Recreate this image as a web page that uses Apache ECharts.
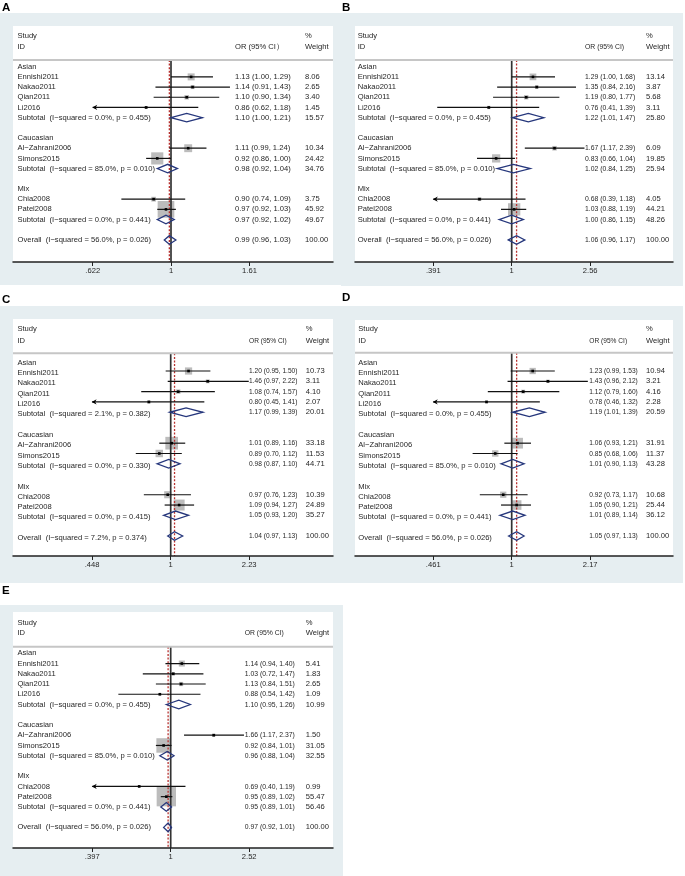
<!DOCTYPE html>
<html>
<head>
<meta charset="utf-8">
<title>Forest plots A-E</title>
<script src="https://cdn.jsdelivr.net/npm/echarts@6/dist/echarts.min.js"></script>
<style>
  html, body { margin: 0; padding: 0; background: #fff; }
  #chart { width: 685px; height: 876px; }
</style>
</head>
<body>
<div id="chart"></div>
<script>
// labels shown in every panel
var studyNames = ['Ennishi2011', 'Nakao2011', 'Qian2011', 'Li2016', 'Al\u2212Zahrani2006', 'Simons2015', 'Chia2008', 'Patel2008'];
var groupNames = ['Asian', 'Caucasian', 'Mix'];

// per panel: studies [OR, lower, upper, weight], pooled rows (3 subtotals + overall), heterogeneity, axis ticks
var studiesA = [[1.13, 1.00, 1.29, 8.06], [1.14, 0.91, 1.43, 2.65], [1.10, 0.90, 1.34, 3.40], [0.86, 0.62, 1.18, 1.45],
  [1.11, 0.99, 1.24, 10.34], [0.92, 0.86, 1.00, 24.42], [0.90, 0.74, 1.09, 3.75], [0.97, 0.92, 1.03, 45.92]];
var pooledA = [[1.10, 1.00, 1.21, 15.57], [0.98, 0.92, 1.04, 34.76], [0.97, 0.92, 1.02, 49.67], [0.99, 0.96, 1.03, 100.00]];
var hetA = [['0.0%', '0.455'], ['85.0%', '0.010'], ['0.0%', '0.441'], ['56.0%', '0.026']];
var ticksA = ['.622', '1', '1.61'];

var studiesB = [[1.29, 1.00, 1.68, 13.14], [1.35, 0.84, 2.16, 3.87], [1.19, 0.80, 1.77, 5.68], [0.76, 0.41, 1.39, 3.11],
  [1.67, 1.17, 2.39, 6.09], [0.83, 0.66, 1.04, 19.85], [0.68, 0.39, 1.18, 4.05], [1.03, 0.88, 1.19, 44.21]];
var pooledB = [[1.22, 1.01, 1.47, 25.80], [1.02, 0.84, 1.25, 25.94], [1.00, 0.86, 1.15, 48.26], [1.06, 0.96, 1.17, 100.00]];
var hetB = [['0.0%', '0.455'], ['85.0%', '0.010'], ['0.0%', '0.441'], ['56.0%', '0.026']];
var ticksB = ['.391', '1', '2.56'];

var studiesC = [[1.20, 0.95, 1.50, 10.73], [1.46, 0.97, 2.22, 3.11], [1.08, 0.74, 1.57, 4.10], [0.80, 0.45, 1.41, 2.07],
  [1.01, 0.89, 1.16, 33.18], [0.89, 0.70, 1.12, 11.53], [0.97, 0.76, 1.23, 10.39], [1.09, 0.94, 1.27, 24.89]];
var pooledC = [[1.17, 0.99, 1.39, 20.01], [0.98, 0.87, 1.10, 44.71], [1.05, 0.93, 1.20, 35.27], [1.04, 0.97, 1.13, 100.00]];
var hetC = [['2.1%', '0.382'], ['0.0%', '0.330'], ['0.0%', '0.415'], ['7.2%', '0.374']];
var ticksC = ['.448', '1', '2.23'];

var studiesD = [[1.23, 0.99, 1.53, 10.94], [1.43, 0.96, 2.12, 3.21], [1.12, 0.79, 1.60, 4.16], [0.78, 0.46, 1.32, 2.28],
  [1.06, 0.93, 1.21, 31.91], [0.85, 0.68, 1.06, 11.37], [0.92, 0.73, 1.17, 10.68], [1.05, 0.90, 1.21, 25.44]];
var pooledD = [[1.19, 1.01, 1.39, 20.59], [1.01, 0.90, 1.13, 43.28], [1.01, 0.89, 1.14, 36.12], [1.05, 0.97, 1.13, 100.00]];
var hetD = [['0.0%', '0.455'], ['85.0%', '0.010'], ['0.0%', '0.441'], ['56.0%', '0.026']];
var ticksD = ['.461', '1', '2.17'];

var studiesE = [[1.14, 0.94, 1.40, 5.41], [1.03, 0.72, 1.47, 1.83], [1.13, 0.84, 1.51, 2.65], [0.88, 0.54, 1.42, 1.09],
  [1.66, 1.17, 2.37, 1.50], [0.92, 0.84, 1.01, 31.05], [0.69, 0.40, 1.19, 0.99], [0.95, 0.89, 1.02, 55.47]];
var pooledE = [[1.10, 0.95, 1.26, 10.99], [0.96, 0.88, 1.04, 32.55], [0.95, 0.89, 1.01, 56.46], [0.97, 0.92, 1.01, 100.00]];
var hetE = [['0.0%', '0.455'], ['85.0%', '0.010'], ['0.0%', '0.441'], ['56.0%', '0.026']];
var ticksE = ['.397', '1', '2.52'];

// row slots (0 = "Asian" heading)
var groupRows = [0, 7, 12];
var studyRows = [1, 2, 3, 4, 8, 9, 13, 14];
var pooledRows = [5, 10, 15, 17];

var FONT = '"Liberation Sans", Arial, sans-serif';
var TXT = '#262626';
var FS = 7.6;
var PPT = 78.5;   // px between the "1" tick and the outer ticks

// panel layout (pixels); ciSx = horizontal squeeze of the OR (95% CI) column
var panels = [
  { letter: 'A', lx: 2, ly: 8, bg: [0, 13, 341, 272], left: 13, top: 26, width: 320, axisY: 262, one: 171,
    base: 66.7, step: 10.19, hdr: [-3.01, -1.97, -0.66], cols: [4.5, 222, 292], nameDy: 0, box: 2.46, ciSx: 1,
    ciHead: 'OR (95% CI\uff09', studies: studiesA, pooled: pooledA, het: hetA, ticks: ticksA },
  { letter: 'B', lx: 342, ly: 8, bg: [341, 13, 342, 273], left: 355, top: 26, width: 318, axisY: 262, one: 511.7,
    base: 66.7, step: 10.19, hdr: [-3.01, -1.97, -0.66], cols: [2.7, 230, 291], nameDy: 0, box: 1.85, ciSx: 0.9,
    ciHead: 'OR (95% CI)', studies: studiesB, pooled: pooledB, het: hetB, ticks: ticksB },
  { letter: 'C', lx: 2, ly: 300, bg: [0, 306, 341, 277], left: 13, top: 319, width: 320, axisY: 556, one: 170.7,
    base: 360.7, step: 10.31, hdr: [-3.24, -2.14, -0.72], cols: [4.4, 236, 292.7], nameDy: 2, box: 2.2, ciSx: 0.87,
    ciHead: 'OR (95% CI)', studies: studiesC, pooled: pooledC, het: hetC, ticks: ticksC },
  { letter: 'D', lx: 342, ly: 298, bg: [341, 306, 342, 277], left: 355, top: 320, width: 318, axisY: 556, one: 511.7,
    base: 360.7, step: 10.31, hdr: [-3.24, -2.14, -0.78], cols: [3.3, 234.3, 291], nameDy: 2, box: 1.9, ciSx: 0.87,
    ciHead: 'OR (95% CI)', studies: studiesD, pooled: pooledD, het: hetD, ticks: ticksD },
  { letter: 'E', lx: 2, ly: 591, bg: [0, 605, 343, 271], left: 13, top: 612, width: 320, axisY: 848, one: 170.7,
    base: 653.3, step: 10.24, hdr: [-2.99, -2.01, -0.64], cols: [4.4, 231.7, 292.7], nameDy: 0, box: 2.6, ciSx: 0.9,
    ciHead: 'OR (95% CI)', studies: studiesE, pooled: pooledE, het: hetE, ticks: ticksE }
];

function ciText(r) {
  return r[0].toFixed(2) + ' (' + r[1].toFixed(2) + ', ' + r[2].toFixed(2) + ')';
}

var grids = [], xAxes = [], yAxes = [], series = [], graphics = [];

panels.forEach(function (cfg, p) {
  var t0 = parseFloat(cfg.ticks[0]), t2 = parseFloat(cfg.ticks[2]);
  var u = Math.log(t2) / PPT;
  var xmin = -(cfg.one - cfg.left) * u;
  var xmax = (cfg.left + cfg.width - cfg.one) * u;
  var ymin = (cfg.top - cfg.base) / cfg.step;
  var ymax = (cfg.axisY - cfg.base) / cfg.step;
  var tickLn = cfg.ticks.map(function (t) { return Math.log(parseFloat(t)); });
  var xi = 2 * p, xt = 2 * p + 1;

  graphics.push({ type: 'rect', z: -10, shape: { x: cfg.bg[0], y: cfg.bg[1], width: cfg.bg[2], height: cfg.bg[3] },
    style: { fill: '#e6eef1' } });
  graphics.push({ type: 'text', x: cfg.lx, y: cfg.ly, z: 10,
    style: { text: cfg.letter, fontSize: 11.5, fontWeight: 'bold', fontFamily: FONT, fill: '#000', verticalAlign: 'middle' } });

  grids.push({ left: cfg.left, top: cfg.top, width: cfg.width, height: cfg.axisY - cfg.top,
    show: true, backgroundColor: '#fff', borderWidth: 0, containLabel: false, outerBoundsMode: 'none' });

  xAxes.push({
    type: 'value', gridIndex: p, min: xmin, max: xmax, z: 5,
    axisLine: { show: true, onZero: false, lineStyle: { color: '#222', width: 1.5 } },
    axisTick: { show: true, customValues: tickLn, length: 4, lineStyle: { color: '#222', width: 1 } },
    axisLabel: {
      show: true, customValues: tickLn, margin: 5, fontSize: FS, fontFamily: FONT, color: TXT,
      formatter: function (v) {
        var k = 0, d = 1e9;
        tickLn.forEach(function (t, i) { if (Math.abs(t - v) < d) { d = Math.abs(t - v); k = i; } });
        return cfg.ticks[k];
      }
    },
    splitLine: { show: false }
  });
  xAxes.push({ type: 'value', gridIndex: p, min: 0, max: cfg.width, show: false });
  yAxes.push({ type: 'value', gridIndex: p, inverse: true, min: ymin, max: ymax, show: false });

  // study rows, lower limit clipped at the lowest tick (drawn with an arrow)
  var studyData = cfg.studies.map(function (s, i) {
    var clip = s[1] <= t0 + 0.005;
    return [Math.log(s[0]), Math.log(clip ? t0 : s[1]), Math.log(s[2]), s[3], studyRows[i], clip ? 1 : 0];
  });
  var pooledData = cfg.pooled.map(function (s, i) {
    return [Math.log(s[0]), Math.log(s[1]), Math.log(s[2]), s[3], pooledRows[i]];
  });
  var overallLn = Math.log(cfg.pooled[3][0]);

  // weight boxes
  series.push({
    type: 'custom', xAxisIndex: xi, yAxisIndex: p, silent: true, animation: false, data: studyData,
    renderItem: function (params, api) {
      var c = api.coord([api.value(0), api.value(4)]);
      var side = cfg.box * Math.sqrt(api.value(3));
      return { type: 'rect', shape: { x: c[0] - side / 2, y: c[1] - side / 2, width: side, height: side },
        style: { fill: '#bcbcbc' } };
    }
  });

  // no-effect line and overall estimate line
  series.push({
    type: 'custom', xAxisIndex: xi, yAxisIndex: p, silent: true, animation: false,
    data: [[0, cfg.hdr[2], ymax, 0], [overallLn, cfg.hdr[2], ymax, 1]],
    renderItem: function (params, api) {
      var a = api.coord([api.value(0), api.value(1)]);
      var b = api.coord([api.value(0), api.value(2)]);
      var red = api.value(3) === 1;
      return { type: 'line', shape: { x1: a[0], y1: a[1], x2: b[0], y2: b[1] },
        style: red ? { stroke: '#b8312f', lineWidth: 1.3, lineDash: [2, 1.6] } : { stroke: '#333', lineWidth: 1.7 } };
    }
  });

  // confidence intervals, point markers, arrows
  series.push({
    type: 'custom', xAxisIndex: xi, yAxisIndex: p, silent: true, animation: false, data: studyData,
    renderItem: function (params, api) {
      var c = api.coord([api.value(0), api.value(4)]);
      var a = api.coord([api.value(1), api.value(4)]);
      var b = api.coord([api.value(2), api.value(4)]);
      var kids = [
        { type: 'line', shape: { x1: a[0], y1: a[1], x2: b[0], y2: b[1] }, style: { stroke: '#111', lineWidth: 1.2 } },
        { type: 'rect', shape: { x: c[0] - 1.3, y: c[1] - 1.3, width: 2.6, height: 2.6 }, style: { fill: '#000' } }
      ];
      if (api.value(5) === 1) {
        kids.push({ type: 'polygon', shape: { points: [[a[0] - 0.5, a[1]], [a[0] + 4.5, a[1] - 2.6], [a[0] + 3, a[1]], [a[0] + 4.5, a[1] + 2.6]] },
          style: { fill: '#000' } });
      }
      return { type: 'group', children: kids };
    }
  });

  // pooled diamonds
  series.push({
    type: 'custom', xAxisIndex: xi, yAxisIndex: p, silent: true, animation: false, data: pooledData,
    renderItem: function (params, api) {
      var l = api.coord([api.value(1), api.value(4)]);
      var m = api.coord([api.value(0), api.value(4)]);
      var h = api.coord([api.value(2), api.value(4)]);
      return { type: 'polygon', shape: { points: [[l[0], l[1]], [m[0], m[1] - 4.3], [h[0], h[1]], [m[0], m[1] + 4.3]] },
        style: { fill: 'transparent', stroke: '#26377c', lineWidth: 1.3 } };
    }
  });

  // header separator
  series.push({
    type: 'custom', xAxisIndex: xt, yAxisIndex: p, silent: true, animation: false,
    data: [[0, cfg.width, cfg.hdr[2]]],
    renderItem: function (params, api) {
      var a = api.coord([api.value(0), api.value(2)]);
      var b = api.coord([api.value(1), api.value(2)]);
      return { type: 'line', shape: { x1: a[0], y1: a[1], x2: b[0], y2: b[1] }, style: { stroke: '#c6c6c6', lineWidth: 2 } };
    }
  });

  // text columns
  var texts = [];
  var nd = cfg.nameDy;
  function add(col, row, str, dy, sx) { texts.push({ col: cfg.cols[col], row: row, text: str, dy: dy, sx: sx || 1 }); }
  add(0, cfg.hdr[0], 'Study', nd);
  add(0, cfg.hdr[1], 'ID', nd);
  add(1, cfg.hdr[1], cfg.ciHead, nd, cfg.ciSx);
  add(2, cfg.hdr[0], '%', nd);
  add(2, cfg.hdr[1], 'Weight', nd);
  groupNames.forEach(function (g, i) { add(0, groupRows[i], g, nd); });
  cfg.studies.forEach(function (s, i) {
    add(0, studyRows[i], studyNames[i], nd);
    add(1, studyRows[i], ciText(s), 0, cfg.ciSx);
    add(2, studyRows[i], s[3].toFixed(2), 0);
  });
  cfg.pooled.forEach(function (s, i) {
    var lbl = (i < 3 ? 'Subtotal' : 'Overall') + '  (I\u2212squared = ' + cfg.het[i][0] + ', p = ' + cfg.het[i][1] + ')';
    add(0, pooledRows[i], lbl, nd);
    add(1, pooledRows[i], ciText(s), 0, cfg.ciSx);
    add(2, pooledRows[i], s[3].toFixed(2), 0);
  });

  series.push({
    type: 'custom', xAxisIndex: xt, yAxisIndex: p, silent: true, animation: false,
    data: texts.map(function (t) { return [t.col, t.row]; }),
    renderItem: function (params, api) {
      var t = texts[params.dataIndex];
      var c = api.coord([api.value(0), api.value(1)]);
      return { type: 'text', x: c[0], y: c[1] + t.dy, scaleX: t.sx,
        style: { text: t.text, fontSize: FS, fontFamily: FONT, fill: TXT, align: 'left', verticalAlign: 'middle' } };
    }
  });
});

var chart = echarts.init(document.getElementById('chart'));
chart.setOption({
  animation: false,
  backgroundColor: '#fff',
  graphic: graphics,
  grid: grids,
  xAxis: xAxes,
  yAxis: yAxes,
  series: series
});
</script>
</body>
</html>
